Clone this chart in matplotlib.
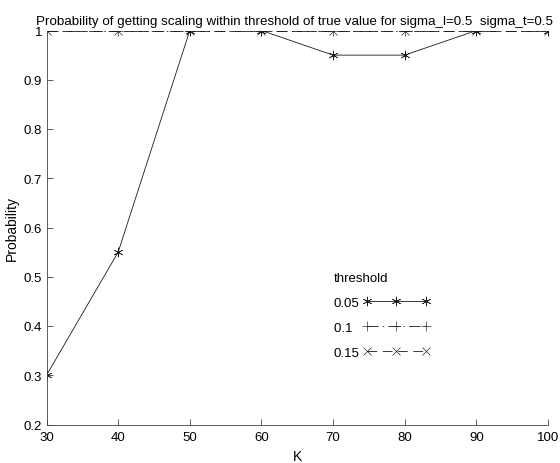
import matplotlib
matplotlib.use("Agg")
import matplotlib.pyplot as plt

plt.rcParams['font.family'] = ['Liberation Sans', 'DejaVu Sans']
plt.rcParams['lines.scale_dashes'] = False

K = [30, 40, 50, 60, 70, 80, 90, 100]
p_005 = [0.3, 0.55, 1.0, 1.0, 0.95, 0.95, 1.0, 1.0]
p_01 = [1.0, 1.0, 1.0, 1.0, 1.0, 1.0, 1.0, 1.0]
p_015 = [1.0, 1.0, 1.0, 1.0, 1.0, 1.0, 1.0, 1.0]
labels = ['0.05', '0.1\u2007', '0.15']
yticks = [0.2, 0.3, 0.4, 0.5, 0.6, 0.7, 0.8, 0.9, 1.0]
yticklabels = ['0.2', '0.3', '0.4', '0.5', '0.6', '0.7', '0.8', '0.9', '1']

fig = plt.figure(figsize=(5.6, 4.64), dpi=100)
ax = fig.add_axes([46.5/560, 1 - 425.5/464, (548 - 46.5)/560, (425.5 - 31.5)/464])

c = '#1a1a1a'
ax.plot(K, p_005, color=c, lw=0.6, ls='-', marker=(6, 2, 0), ms=6.8, mew=0.45, label=labels[0])
ax.plot(K, p_01, color=c, lw=0.6, marker='+', ms=7, mew=0.45, label=labels[1], dashes=(8, 3, 1, 3))
ax.plot(K, p_015, color=c, lw=0.6, marker='x', ms=5.5, mew=0.45, label=labels[2], dashes=(7, 4))

ax.set_xlim(30, 100)
ax.set_ylim(0.2, 1.0)
ax.set_xticks(K)
ax.set_yticks(yticks)
ax.set_yticklabels(yticklabels)
ax.tick_params(direction='in', length=4, width=0.6, labelsize=9.5, colors='#444444', labelcolor='black')
ax.tick_params(axis='y', pad=3)
ax.tick_params(axis='x', pad=5)
for s in ['top', 'right']:
    ax.spines[s].set_visible(False)
for s in ['left', 'bottom']:
    ax.spines[s].set_linewidth(0.6)
    ax.spines[s].set_color('#444444')

ax.set_xlabel('K', fontsize=10, labelpad=4)
ax.set_ylabel('Probability', fontsize=10, labelpad=4)
ax.set_title('Probability of getting scaling within threshold of true value for sigma_l=0.5  sigma_t=0.5',
             fontsize=9.6, pad=5, x=0.494)

leg = ax.legend(title='threshold', frameon=False, markerfirst=False, numpoints=3,
                handlelength=5.1, fontsize=9.5, title_fontsize=9.5, alignment='left',
                loc='upper left', bbox_to_anchor=(0.554, 0.41), labelspacing=0.95,
                handletextpad=0.25, borderpad=0.2)

fig.savefig('out.png', dpi=100)
